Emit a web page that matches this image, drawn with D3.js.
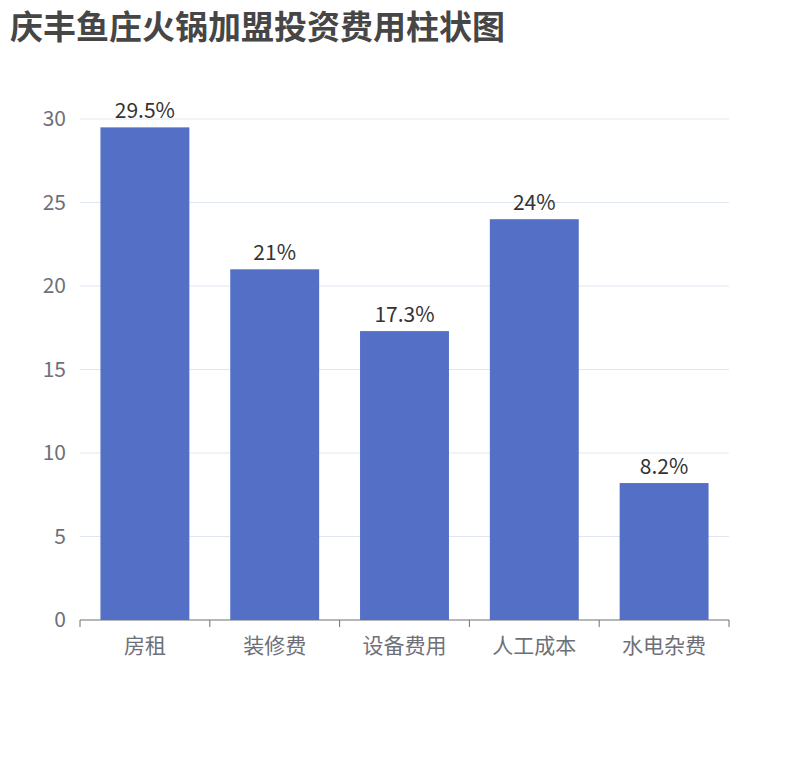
<!DOCTYPE html>
<html><head><meta charset="utf-8">
<script src="https://cdn.jsdelivr.net/npm/d3@7"></script>
<style>body{margin:0;background:#fff;font-family:"Noto Sans CJK SC","Noto Sans",sans-serif;}</style>
</head><body>
<svg id="chart" width="810" height="760"></svg>
<script>
var categories = ['房租', '装修费', '设备费用', '人工成本', '水电杂费'];
var values = [29.5, 21, 17.3, 24, 8.2];
var yTicks = [0, 5, 10, 15, 20, 25, 30];

var svg = d3.select('#chart');
var pLeft = 80, pRight = 729, pTop = 119, pBottom = 620;

svg.append('text').attr('x', 10).attr('y', 39)
  .attr('font-size', 33).attr('font-weight', 'bold').attr('fill', '#464646')
  .text('庆丰鱼庄火锅加盟投资费用柱状图');

var x = d3.scaleBand().domain(categories).range([pLeft, pRight]);
var y = d3.scaleLinear().domain([0, 30]).range([pBottom, pTop]);

// grid
svg.selectAll('.grid').data(yTicks.slice(1)).enter().append('line')
  .attr('x1', pLeft).attr('x2', pRight)
  .attr('y1', function(d){ return y(d); }).attr('y2', function(d){ return y(d); })
  .attr('stroke', '#e0e6f1');

svg.selectAll('.ylab').data(yTicks).enter().append('text')
  .attr('x', pLeft - 14).attr('y', function(d){ return y(d); })
  .attr('dy', '0.35em').attr('text-anchor', 'end')
  .attr('font-size', 21).attr('fill', '#6e7079')
  .text(function(d){ return d; });

var bw = x.bandwidth() * 0.685;
svg.selectAll('.bar').data(values).enter().append('rect')
  .attr('x', function(d, i){ return x(categories[i]) + (x.bandwidth() - bw) / 2; })
  .attr('y', function(d){ return y(d); })
  .attr('width', bw)
  .attr('height', function(d){ return pBottom - y(d); })
  .attr('fill', '#5470c6');

svg.selectAll('.vlab').data(values).enter().append('text')
  .attr('x', function(d, i){ return x(categories[i]) + x.bandwidth() / 2; })
  .attr('y', function(d){ return y(d) - 9; })
  .attr('text-anchor', 'middle').attr('font-size', 21).attr('fill', '#333')
  .text(function(d){ return d + '%'; });

// x axis
svg.append('line').attr('x1', pLeft).attr('x2', pRight)
  .attr('y1', pBottom).attr('y2', pBottom).attr('stroke', '#6e7079');
var tickPos = categories.map(function(c){ return x(c); }).concat([pRight]);
svg.selectAll('.xt').data(tickPos).enter().append('line')
  .attr('x1', function(d){ return d; }).attr('x2', function(d){ return d; })
  .attr('y1', pBottom).attr('y2', pBottom + 7).attr('stroke', '#6e7079');
svg.selectAll('.xlab').data(categories).enter().append('text')
  .attr('x', function(d){ return x(d) + x.bandwidth() / 2; })
  .attr('y', pBottom + 33).attr('text-anchor', 'middle')
  .attr('font-size', 21).attr('fill', '#6e7079')
  .text(function(d){ return d; });
</script>
</body></html>
